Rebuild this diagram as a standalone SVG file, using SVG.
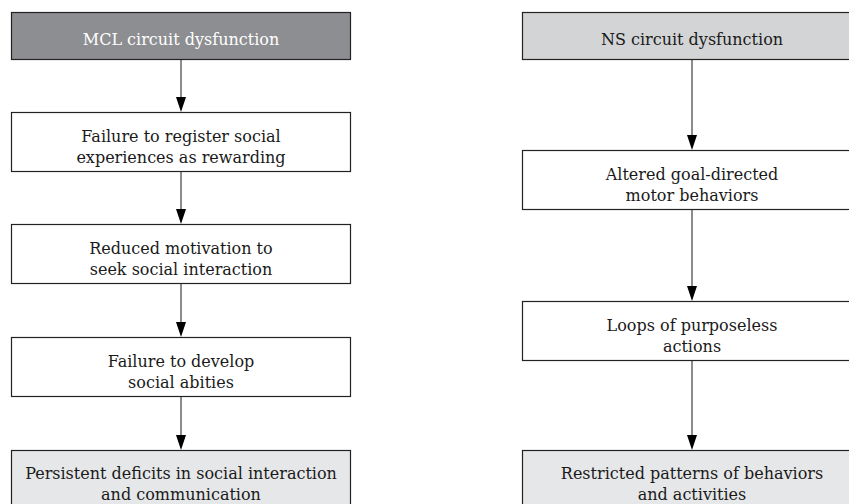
<svg xmlns="http://www.w3.org/2000/svg" width="849" height="504" viewBox="0 0 849 504">
<style>
.box{stroke:#222;stroke-width:1.2}
.w{fill:#ffffff}
.dk{fill:#8d8e91}
.lt{fill:#d3d4d6}
.lt2{fill:#e6e7e8}
text{font-family:"DejaVu Serif","Liberation Serif",serif;font-size:16px;text-anchor:middle;fill:#1a1a1a}
.wt{fill:#ffffff}
.con .ln{stroke:#666;stroke-width:1.5;fill:none}
.con .hd{fill:#000}
</style>
<rect width="849" height="504" fill="#fff"/>
<g class="con">
<path class="ln" d="M181,60 V97"/>
<path class="hd" d="M176,97 L186,97 L181,112 Z"/>
<path class="ln" d="M181,172 V209"/>
<path class="hd" d="M176,209 L186,209 L181,224 Z"/>
<path class="ln" d="M181,284 V322"/>
<path class="hd" d="M176,322 L186,322 L181,337 Z"/>
<path class="ln" d="M181,397 V435"/>
<path class="hd" d="M176,435 L186,435 L181,450 Z"/>
<path class="ln" d="M692,60 V135"/>
<path class="hd" d="M687,135 L697,135 L692,150 Z"/>
<path class="ln" d="M692,209 V286"/>
<path class="hd" d="M687,286 L697,286 L692,301 Z"/>
<path class="ln" d="M692,361 V435"/>
<path class="hd" d="M687,435 L697,435 L692,450 Z"/>
</g>
<g id="mcl">
<rect class="box dk" x="11.5" y="12.5" width="339" height="47"/>
<text class="wt" x="181" y="45">MCL circuit dysfunction</text>
</g>
<g id="failure-register">
<rect class="box w" x="11.5" y="112.5" width="339" height="59"/>
<text x="181" y="142">Failure to register social</text>
<text x="181" y="163">experiences as rewarding</text>
</g>
<g id="reduced-motivation">
<rect class="box w" x="11.5" y="224.5" width="339" height="59"/>
<text x="181" y="254">Reduced motivation to</text>
<text x="181" y="275">seek social interaction</text>
</g>
<g id="failure-develop">
<rect class="box w" x="11.5" y="337.5" width="339" height="59"/>
<text x="181" y="367">Failure to develop</text>
<text x="181" y="388">social abities</text>
</g>
<g id="persistent-deficits">
<rect class="box lt2" x="11.5" y="450.5" width="339" height="60"/>
<text x="181" y="479">Persistent deficits in social interaction</text>
<text x="181" y="500">and communication</text>
</g>
<g id="ns">
<rect class="box lt" x="522.5" y="12.5" width="340" height="47"/>
<text x="692" y="45">NS circuit dysfunction</text>
</g>
<g id="altered">
<rect class="box w" x="522.5" y="150.5" width="340" height="59"/>
<text x="692" y="180">Altered goal-directed</text>
<text x="692" y="201">motor behaviors</text>
</g>
<g id="loops">
<rect class="box w" x="522.5" y="301.5" width="340" height="59"/>
<text x="692" y="331">Loops of purposeless</text>
<text x="692" y="352">actions</text>
</g>
<g id="restricted">
<rect class="box lt2" x="522.5" y="450.5" width="340" height="60"/>
<text x="692" y="479">Restricted patterns of behaviors</text>
<text x="692" y="500">and activities</text>
</g>
</svg>
